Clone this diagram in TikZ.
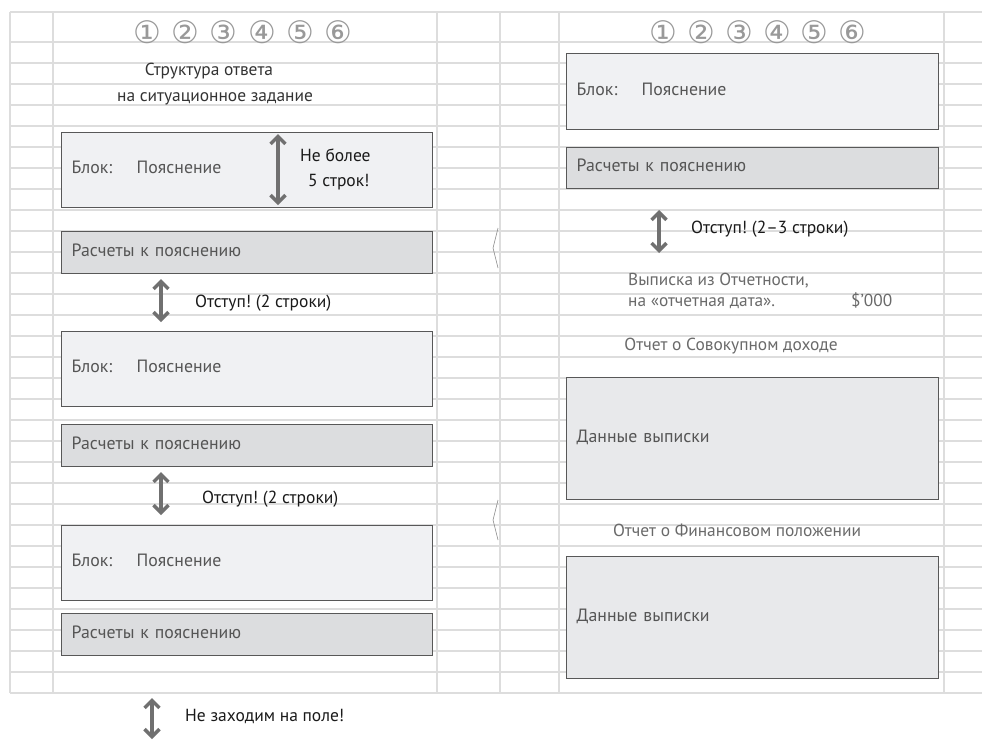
\documentclass[tikz,border=0pt]{standalone}
\usepackage{fontspec}
\setmainfont{PT Sans}
\newfontfamily\circfont{DejaVu Sans}
\usetikzlibrary{arrows.meta}
\frenchspacing
\definecolor{gridc}{HTML}{DDDDDD}
\definecolor{boxline}{HTML}{585858}
\definecolor{lightfill}{HTML}{F0F1F3}
\definecolor{darkfill}{HTML}{DCDDDF}
\definecolor{datafill}{HTML}{E8E9EB}
\definecolor{boxtext}{HTML}{555555}
\definecolor{labeltext}{HTML}{1A1A1A}
\definecolor{graytext}{HTML}{6A6A6A}
\definecolor{arrowc}{HTML}{707070}
\definecolor{circc}{HTML}{999999}
\tikzset{
  gridline/.style={draw=gridc, line width=2pt},
  boxbase/.style={draw=boxline, line width=1.4pt, anchor=north west, inner xsep=10pt, inner ysep=0pt,
    align=left, text height=0.7em, text depth=0pt, text=boxtext, font=\fontsize{17.8}{19}\selectfont},
  blokbox/.style={boxbase, fill=lightfill, text width=351pt, minimum height=75pt},
  calcbox/.style={boxbase, fill=darkfill, text width=351pt, minimum height=42pt},
  rblokbox/.style={boxbase, fill=lightfill, text width=352pt, minimum height=76pt},
  rcalcbox/.style={boxbase, fill=darkfill, text width=352pt, minimum height=41pt},
  databox/.style={boxbase, fill=datafill, text width=352pt, minimum height=122pt},
  lbl/.style={inner sep=0pt, anchor=west, text height=0.7em, text depth=0pt, text=labeltext, font=\fontsize{17.5}{19}\selectfont},
  gtxt/.style={inner sep=0pt, anchor=west, text height=0.7em, text depth=0pt, text=graytext, font=\fontsize{17.3}{19}\selectfont},
  ttl/.style={inner sep=0pt, text height=0.7em, text depth=0pt, text=black!80, font=\fontsize{17.4}{19}\selectfont},
  circnum/.style={inner sep=0pt, text=circc, font=\circfont\fontsize{31}{32}\selectfont},
  dblarrow/.style={draw=arrowc, line width=4.5pt,
    {Straight Barb[length=7.5pt,width=15pt,line width=3.5pt]}-{Straight Barb[length=7.5pt,width=15pt,line width=3.5pt]}},
  nick/.style={draw=black!45, line width=0.6pt}
}
\newcommand{\blk}{\makebox[65pt][l]{Блок:}Пояснение}
\begin{document}
\begin{tikzpicture}[x=1pt,y=-1pt]
\useasboundingbox (0,0) rectangle (982,740);
\fill[white] (0,0) rectangle (982,740);
% grid
\foreach \y in {12,42,63,...,693} \draw[gridline] (10,\y) -- (982,\y);
\foreach \x in {10,53,437,500,559,944} \draw[gridline] (\x,12) -- (\x,693);
% page-break nicks
\draw[nick] (498,228) -- (493,248) -- (498,268);
\draw[nick] (498,500) -- (493,520) -- (498,540);
% circled numbers
\foreach \n/\c [count=\i] in {147/①,185/②,223/③,262/④,300/⑤,338/⑥}
  \node[circnum] (lc\i) at (\n,32) {\c};
\foreach \n/\c [count=\i] in {663/①,701/②,739/③,777/④,814/⑤,852/⑥}
  \node[circnum] (rc\i) at (\n,32) {\c};
% left page
\node[ttl] (t1) at (209,72) {Структура ответа};
\node[ttl] (t2) at (215,98) {на ситуационное задание};
\node[blokbox] (b1) at (61,132) {\blk};
\node[calcbox] (c1) at (61,231) {Расчеты к пояснению};
\node[blokbox] (b2) at (61,331) {\blk};
\node[calcbox] (c2) at (61,424) {Расчеты к пояснению};
\node[blokbox] (b3) at (61,525) {\blk};
\node[calcbox] (c3) at (61,613) {Расчеты к пояснению};
\coordinate (a1t) at (278,134);
\coordinate (a1b) at (278,205);
\draw[dblarrow] (a1t) -- (a1b);
\node[lbl] (l1a) at (300,158) {Не более};
\node[lbl] (l1b) at (308,183) {5 строк!};
\coordinate (a2t) at (161,279);
\coordinate (a2b) at (161,322);
\draw[dblarrow] (a2t) -- (a2b);
\node[lbl] (l2) at (195,304) {Отступ! (2 строки)};
\coordinate (a3t) at (161,472);
\coordinate (a3b) at (161,515);
\draw[dblarrow] (a3t) -- (a3b);
\node[lbl] (l3) at (202,500) {Отступ! (2 строки)};
\coordinate (a4t) at (152,698);
\coordinate (a4b) at (152,739);
\draw[dblarrow] (a4t) -- (a4b);
\node[lbl] (l4) at (185,718) {Не заходим на поле!};
% right page
\node[rblokbox] (rb) at (566,53) {\blk};
\node[rcalcbox] (rc) at (566,147) {Расчеты к пояснению};
\coordinate (a5t) at (659,210);
\coordinate (a5b) at (659,253);
\draw[dblarrow] (a5t) -- (a5b);
\node[lbl] (l5) at (691,230) {Отступ! (2–3 строки)};
\node[gtxt] (g1) at (628,282) {Выписка из Отчетности,};
\node[gtxt] (g2) at (628,303) {на «отчетная дата».};
\node[gtxt] (g3) at (851,303) {\$’000};
\node[ttl, text=graytext] (s1) at (731,347) {Отчет о Совокупном доходе};
\node[databox] (d1) at (566,377) {Данные выписки};
\node[ttl, text=graytext] (s2) at (737,533) {Отчет о Финансовом положении};
\node[databox] (d2) at (566,556) {Данные выписки};
\end{tikzpicture}
\end{document}
